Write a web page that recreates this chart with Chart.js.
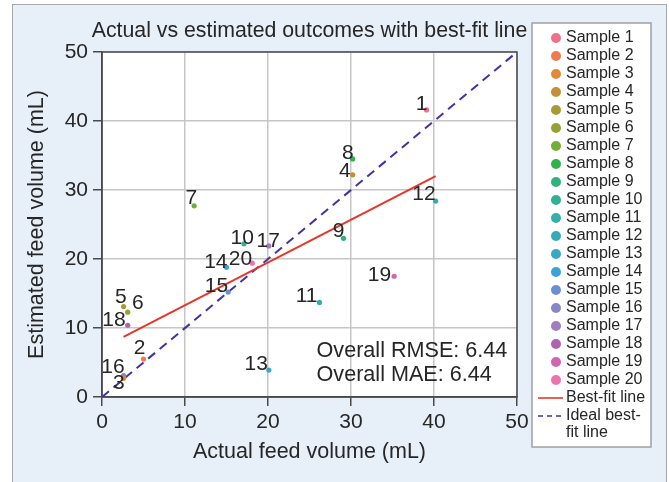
<!DOCTYPE html>
<html>
<head>
<meta charset="utf-8">
<script src="https://cdn.jsdelivr.net/npm/chart.js@4/dist/chart.umd.min.js"></script>
<style>
  html, body { margin: 0; padding: 0; background: #ffffff; }
  #frame {
    position: absolute; left: 12px; top: 4px; width: 653px; height: 500px;
    background: #e7eff9; border: 1.5px solid #a8a8a8;
  }
  #chart { position: absolute; left: 0; top: 0; }
</style>
</head>
<body>
<div id="frame"></div>
<canvas id="chart" width="669" height="482"></canvas>
<script>
var chartTitle = "Actual vs estimated outcomes with best-fit line";
var sampleNames = ["Sample 1", "Sample 2", "Sample 3", "Sample 4", "Sample 5", "Sample 6", "Sample 7",
  "Sample 8", "Sample 9", "Sample 10", "Sample 11", "Sample 12", "Sample 13", "Sample 14",
  "Sample 15", "Sample 16", "Sample 17", "Sample 18", "Sample 19", "Sample 20"];
var actualVolume = [39.1, 5.0, 2.6, 30.2, 2.6, 3.1, 11.1, 30.2, 29.1, 17.1,
  26.2, 40.2, 20.1, 15.0, 15.2, 2.6, 20.1, 3.1, 35.2, 18.1];
var estimatedVolume = [41.6, 5.5, 2.7, 32.2, 13.1, 12.3, 27.7, 34.5, 23.0, 22.2,
  13.7, 28.4, 3.9, 18.8, 15.2, 3.1, 21.9, 10.4, 17.5, 19.4];
var sampleColors = ["#f0708a", "#f27a50", "#e08a36", "#c39134", "#aa9a33", "#93a233", "#74ae3a",
  "#30b24c", "#31b17e", "#31b096", "#33aea8", "#35abb7", "#37a8c7", "#3ba2dc",
  "#6b8fd3", "#8a85c6", "#a07cc0", "#b063b0", "#d066b2", "#f071b0"];
var bestFitX = [2.6, 40.2];
var bestFitY = [8.7, 32.0];
var idealX = [0, 50];
var idealY = [0, 50];
var axisTicks = [0, 10, 20, 30, 40, 50];
var statsLines = ["Overall RMSE: 6.44", "Overall MAE: 6.44"];

// label nudges (px) from the default spot: right edge on the point, baseline on the point
var labelNudge = [[0, 0], [1, -5], [0, 11], [-3, 2], [2, -4], [15, -3], [2, -2], [0, 0], [0, -1], [9, 0],
  [-3, 0], [-1, -1], [-2, 0], [0, 1], [-1, 0], [0, -3], [10, 1], [-3, 1], [-4, 5], [-1, 2]];

(function () {
  var FONT = "'Liberation Sans', Arial, Helvetica, sans-serif";
  var TEXT = "#262626";
  var AXIS = "#4a4a4a";
  var GRID = "#c6c6c6";

  function toPoints(xs, ys) {
    var pts = [];
    for (var i = 0; i < xs.length; i++) pts.push({ x: xs[i], y: ys[i] });
    return pts;
  }

  var datasets = [];
  for (var i = 0; i < sampleNames.length; i++) {
    datasets.push({
      label: sampleNames[i],
      data: [{ x: actualVolume[i], y: estimatedVolume[i] }],
      backgroundColor: sampleColors[i],
      borderWidth: 0,
      pointRadius: 2.6,
      pointHoverRadius: 3,
    });
  }
  datasets.push({
    type: "line",
    label: "Best-fit line",
    data: toPoints(bestFitX, bestFitY),
    borderColor: "#e8352b",
    borderWidth: 2,
    pointRadius: 0,
    showLine: true,
    fill: false,
  });
  datasets.push({
    type: "line",
    label: "Ideal best-fit line",
    data: toPoints(idealX, idealY),
    borderColor: "#4232a4",
    borderWidth: 2,
    borderDash: [9, 6],
    pointRadius: 0,
    showLine: true,
    fill: false,
  });

  var plotDecor = {
    id: "plotDecor",
    beforeDraw: function (chart) {
      var a = chart.chartArea, ctx = chart.ctx;
      ctx.save();
      ctx.fillStyle = "#ffffff";
      ctx.fillRect(a.left, a.top, a.right - a.left, a.bottom - a.top);
      // title centred over the plot, allowed to run past its edges
      ctx.fillStyle = TEXT;
      ctx.font = "21.3px " + FONT;
      ctx.textAlign = "center";
      ctx.textBaseline = "middle";
      ctx.fillText(chartTitle, (a.left + a.right) / 2, a.top - 21);
      ctx.restore();
    },
    beforeDatasetsDraw: function (chart) {
      var a = chart.chartArea, ctx = chart.ctx;
      ctx.save();
      ctx.strokeStyle = AXIS;
      ctx.lineWidth = 1.5;
      ctx.strokeRect(a.left, a.top, a.right - a.left, a.bottom - a.top);
      ctx.restore();
    },
    afterDatasetsDraw: function (chart) {
      var ctx = chart.ctx, a = chart.chartArea;
      ctx.save();
      ctx.font = "21px " + FONT;
      ctx.fillStyle = TEXT;
      ctx.textAlign = "right";
      ctx.textBaseline = "alphabetic";
      for (var i = 0; i < sampleNames.length; i++) {
        var el = chart.getDatasetMeta(i).data[0];
        if (!el) continue;
        var n = labelNudge[i] || [0, 0];
        ctx.fillText(String(i + 1), el.x + n[0] + 1, el.y + n[1]);
      }
      // stats text, lower right of the plot
      ctx.font = "21.6px " + FONT;
      ctx.textAlign = "left";
      var sx = a.left + (a.right - a.left) * 0.517;
      ctx.fillText(statsLines[0], sx, a.bottom - 40);
      ctx.fillText(statsLines[1], sx, a.bottom - 16);
      ctx.restore();
    },
    afterDraw: function (chart) {
      var ctx = chart.ctx;
      var bx = 532, by = 23, bw = 119, bh = 424;
      ctx.save();
      ctx.fillStyle = "#ffffff";
      ctx.fillRect(bx, by, bw, bh);
      ctx.strokeStyle = "#a0a0a0";
      ctx.lineWidth = 1.5;
      ctx.strokeRect(bx, by, bw, bh);
      ctx.font = "16px " + FONT;
      ctx.textBaseline = "middle";
      ctx.textAlign = "left";
      var y = 38, step = 18, textX = 566;
      chart.data.datasets.forEach(function (ds) {
        if (ds.type === "line") {
          ctx.strokeStyle = ds.borderColor;
          ctx.lineWidth = 1.6;
          ctx.setLineDash(ds.borderDash ? [5, 4] : []);
          ctx.beginPath();
          ctx.moveTo(538, y);
          ctx.lineTo(563, y);
          ctx.stroke();
          ctx.setLineDash([]);
        } else {
          ctx.fillStyle = ds.backgroundColor;
          ctx.beginPath();
          ctx.arc(556, y, 5, 0, Math.PI * 2);
          ctx.fill();
        }
        ctx.fillStyle = TEXT;
        var label = ds.label;
        if (ctx.measureText(label).width > bx + bw - textX - 4) {
          var cut = label.indexOf("-") + 1;
          ctx.fillText(label.slice(0, cut), textX, y);
          y += 16.5;
          ctx.fillText(label.slice(cut).trim(), textX, y);
        } else {
          ctx.fillText(label, textX, y);
        }
        y += step;
      });
      ctx.restore();
    },
  };

  function tickList(scale) {
    scale.ticks = axisTicks.map(function (v) { return { value: v }; });
  }

  new Chart(document.getElementById("chart"), {
    type: "scatter",
    data: { datasets: datasets },
    options: {
      responsive: false,
      animation: false,
      events: [],
      layout: { padding: { left: 0, right: 152, top: 52, bottom: 0 } },
      plugins: {
        legend: { display: false },
        tooltip: { enabled: false },
        title: { display: false },
      },
      scales: {
        x: {
          type: "linear",
          min: 0,
          max: 50,
          afterBuildTicks: tickList,
          afterFit: function (s) { s.height = 85; },
          grid: { color: GRID, lineWidth: 1.5, tickColor: AXIS, tickLength: 9, tickWidth: 1.5 },
          border: { color: AXIS, width: 1.5 },
          ticks: { color: TEXT, padding: 4, font: { family: FONT, size: 21 } },
          title: {
            display: true,
            text: "Actual feed volume (mL)",
            color: TEXT,
            font: { family: FONT, size: 21.5, lineHeight: 1.2 },
            padding: { top: 0, bottom: 17.2 },
          },
        },
        y: {
          type: "linear",
          min: 0,
          max: 50,
          afterBuildTicks: tickList,
          afterFit: function (s) { s.width = 102; },
          grid: { color: GRID, lineWidth: 1.5, tickColor: AXIS, tickLength: 9, tickWidth: 1.5 },
          border: { color: AXIS, width: 1.5 },
          ticks: { color: TEXT, padding: 5, font: { family: FONT, size: 21 } },
          title: {
            display: true,
            text: "Estimated feed volume (mL)",
            color: TEXT,
            font: { family: FONT, size: 21.5, lineHeight: 1.2 },
            padding: { top: 24.5, bottom: 0 },
          },
        },
      },
    },
    plugins: [plotDecor],
  });
})();
</script>
</body>
</html>
